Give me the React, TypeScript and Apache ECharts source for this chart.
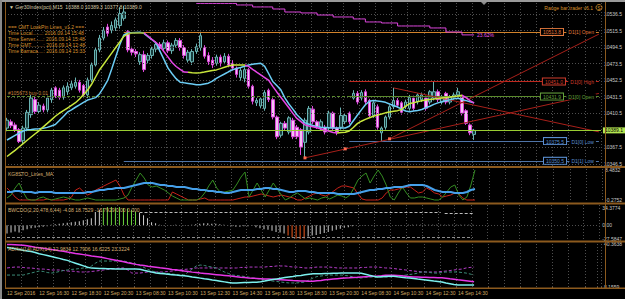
import React, { useEffect, useRef } from 'react';
import * as echarts from 'echarts';

// ---------- categories (M15 bars, trading sessions) ----------
const sessionDays = ['12 Sep', '13 Sep', '14 Sep', '15 Sep'];
const sessionStartMinutes = [870, 480, 480, 480];
const sessionBarCounts = [30, 56, 56, 6];

function buildCategories(): string[] {
  const out: string[] = [];
  sessionDays.forEach((d, s) => {
    for (let k = 0; k < sessionBarCounts[s]; k++) {
      const m = sessionStartMinutes[s] + 15 * k;
      out.push(`${d} ${String(Math.floor(m / 60)).padStart(2, '0')}:${String(m % 60).padStart(2, '0')}`);
    }
  });
  return out;
}
const categories = buildCategories();

const timeLabels = [
  '12 Sep 2016', '12 Sep 16:30', '12 Sep 18:30', '12 Sep 20:30', '13 Sep 08:30', '13 Sep 10:30',
  '13 Sep 12:30', '13 Sep 14:30', '13 Sep 16:30', '13 Sep 18:30', '13 Sep 20:30', '14 Sep 08:30',
  '14 Sep 10:30', '14 Sep 12:30', '14 Sep 14:30',
];
const LABEL_EVERY = 8;

// ---------- main pane: candles [open, close, low, high] ----------
const candles: number[][] = [
  [10392, 10402, 10388, 10405], [10400, 10395, 10392, 10403], [10396, 10390, 10387, 10399], [10390, 10375, 10373, 10392],
  [10376, 10392, 10372, 10395], [10392, 10412, 10388, 10415], [10409, 10430, 10405, 10434], [10428, 10413, 10410, 10432],
  [10413, 10421, 10410, 10425], [10420, 10415, 10412, 10423], [10415, 10430, 10412, 10433], [10428, 10440, 10424, 10443],
  [10443, 10433, 10430, 10445], [10440, 10431, 10428, 10443], [10431, 10443, 10428, 10446], [10438, 10445, 10434, 10450],
  [10443, 10448, 10440, 10452], [10445, 10450, 10442, 10456], [10450, 10440, 10437, 10453], [10446, 10434, 10430, 10448],
  [10434, 10453, 10430, 10456], [10453, 10472, 10450, 10475], [10472, 10491, 10470, 10494], [10491, 10506, 10488, 10510],
  [10506, 10516, 10503, 10520], [10520, 10512, 10508, 10524], [10516, 10522, 10512, 10527], [10519, 10529, 10515, 10532],
  [10522, 10537, 10518, 10545], [10531, 10539, 10528, 10547],
  [10514, 10491, 10488, 10516], [10492, 10488, 10484, 10495], [10489, 10486, 10482, 10492], [10476, 10485, 10472, 10488],
  [10485, 10466, 10463, 10490], [10478, 10484, 10474, 10487], [10484, 10492, 10480, 10495], [10492, 10498, 10488, 10502],
  [10498, 10493, 10489, 10501], [10493, 10500, 10490, 10504], [10500, 10490, 10487, 10503], [10490, 10497, 10486, 10500],
  [10497, 10503, 10494, 10506], [10503, 10494, 10490, 10506], [10494, 10484, 10480, 10497], [10478, 10488, 10475, 10491],
  [10476, 10489, 10472, 10492], [10489, 10495, 10486, 10499], [10494, 10509, 10490, 10514], [10494, 10483, 10480, 10497],
  [10484, 10476, 10472, 10488], [10478, 10472, 10468, 10482], [10474, 10482, 10471, 10485], [10482, 10475, 10470, 10485],
  [10476, 10483, 10473, 10487], [10483, 10472, 10469, 10486], [10474, 10468, 10465, 10478], [10468, 10460, 10456, 10470],
  [10456, 10465, 10452, 10468], [10455, 10466, 10450, 10469], [10466, 10445, 10442, 10468], [10445, 10426, 10422, 10447],
  [10424, 10427, 10420, 10430], [10420, 10429, 10417, 10431], [10417, 10437, 10414, 10440], [10440, 10428, 10425, 10442],
  [10428, 10406, 10403, 10430], [10406, 10381, 10378, 10408], [10383, 10398, 10380, 10400], [10398, 10392, 10389, 10401],
  [10387, 10405, 10384, 10407], [10402, 10381, 10378, 10405], [10393, 10381, 10378, 10396], [10390, 10368, 10358, 10392],
  [10374, 10402, 10354, 10405], [10387, 10417, 10384, 10420], [10416, 10400, 10397, 10420], [10400, 10394, 10391, 10402],
  [10392, 10400, 10389, 10403], [10393, 10387, 10384, 10396], [10392, 10411, 10389, 10414], [10411, 10392, 10389, 10413],
  [10392, 10387, 10383, 10394], [10393, 10408, 10390, 10418], [10400, 10408, 10397, 10411], [10411, 10400, 10397, 10413],
  [10430, 10436, 10428, 10440], [10436, 10425, 10422, 10439], [10430, 10437, 10427, 10440], [10438, 10425, 10422, 10441],
  [10427, 10408, 10405, 10429], [10408, 10424, 10405, 10426], [10419, 10393, 10390, 10422], [10386, 10392, 10375.5, 10394],
  [10393, 10406, 10390, 10408], [10406, 10419, 10403, 10421], [10419, 10427, 10416, 10443], [10427, 10421, 10418, 10430],
  [10424, 10412, 10409, 10426], [10419, 10425, 10416, 10428], [10417, 10431, 10414, 10434], [10430, 10417, 10414, 10433],
  [10425, 10434, 10422, 10436], [10428, 10434, 10425, 10437], [10430, 10417, 10414, 10433], [10425, 10438, 10422, 10440],
  [10430, 10438, 10427, 10451], [10438, 10428, 10425, 10441], [10425, 10431, 10422, 10434], [10436, 10425, 10422, 10438],
  [10425, 10431, 10422, 10434], [10430, 10434, 10428, 10437], [10434, 10438, 10431, 10443], [10431, 10411, 10408, 10434],
  [10414, 10398, 10396, 10416], [10396, 10386, 10383, 10398], [10384, 10389.1, 10377, 10391],
];

const maFast = [
  10376.9, 10379.8, 10382.7, 10385.5, 10388.3, 10389.8, 10390.2, 10390.7, 10391.2, 10391.8,
  10392.9, 10394.6, 10396.6, 10401.6, 10406.8, 10412.1, 10415.2, 10418.4, 10421.4, 10424.5,
  10427.5, 10429.0, 10430.6, 10435.6, 10443.5, 10452.4, 10466.7, 10482.3, 10497.5, 10509.9,
  10512.4, 10512.8, 10513.2, 10513.5, 10511.9, 10507.8, 10503.9, 10499.9, 10489.2, 10478.7,
  10467.9, 10460.8, 10454.6, 10450.1, 10449.3, 10448.6, 10447.8, 10447.0, 10446.9, 10447.9,
  10448.9, 10451.5, 10454.9, 10457.8, 10460.5, 10463.3, 10465.9, 10467.4, 10468.8, 10470.3,
  10471.9, 10472.8, 10473.6, 10474.1, 10470.1, 10460.8, 10451.1, 10445.9, 10440.4, 10430.3,
  10422.5, 10416.0, 10408.9, 10403.8, 10398.6, 10396.9, 10395.2, 10393.7, 10393.1, 10392.7,
  10392.3, 10392.1, 10392.1, 10392.1, 10392.1, 10394.3, 10401.3, 10408.2, 10415.1, 10421.6,
  10426.0, 10427.0, 10426.3, 10425.6, 10424.6, 10422.6, 10420.6, 10418.7, 10416.1, 10413.6,
  10412.7, 10413.6, 10414.4, 10415.5, 10417.7, 10419.7, 10422.0, 10423.9, 10425.3, 10426.8,
  10427.8, 10429.0, 10429.8, 10428.3, 10426.8, 10425.3, 10424.2,
];

const maSlow = [
  10356.0, 10359.9, 10363.8, 10368.1, 10372.3, 10376.6, 10380.7, 10384.8, 10388.9, 10393.5,
  10397.9, 10402.4, 10407.0, 10410.8, 10414.1, 10417.4, 10420.7, 10424.1, 10428.9, 10434.5,
  10439.9, 10447.5, 10456.7, 10465.9, 10472.9, 10480.0, 10486.9, 10494.0, 10501.0, 10508.1,
  10511.1, 10512.4, 10512.4, 10512.4, 10512.4, 10508.6, 10504.4, 10500.4, 10495.6, 10488.7,
  10481.9, 10475.0, 10470.0, 10466.4, 10463.0, 10462.6, 10462.2, 10461.9, 10462.0, 10462.9,
  10463.9, 10464.8, 10465.7, 10467.3, 10469.0, 10470.6, 10471.9, 10471.9, 10471.9, 10471.9,
  10470.1, 10466.4, 10462.9, 10459.5, 10456.0, 10452.4, 10444.9, 10437.8, 10431.1, 10424.5,
  10417.7, 10410.6, 10404.2, 10400.2, 10396.1, 10394.7, 10393.6, 10392.4, 10390.9, 10389.4,
  10387.9, 10386.5, 10385.7, 10386.4, 10386.7, 10388.3, 10392.8, 10397.6, 10400.7, 10403.1,
  10405.1, 10406.9, 10408.4, 10409.8, 10411.3, 10412.3, 10413.2, 10414.1, 10415.5, 10419.9,
  10423.1, 10424.2, 10425.5, 10426.6, 10427.7, 10428.3, 10428.9, 10429.6, 10430.2, 10430.8,
  10431.3, 10432.0, 10432.6, 10433.6, 10430.7, 10426.9, 10423.7,
];
// trend segments of the slow MA (bar index where colour changes)
const maSlowTurns = [30, 34, 45, 59, 82, 113];

const fibStart = 47;
const fibLevel = [
  10549.9, 10549.9, 10549.9, 10549.9, 10549.9, 10549.9, 10549.9, 10549.9, 10549.9, 10549.9,
  10547.9, 10547.9, 10547.9, 10547.9, 10545.4, 10545.4, 10545.4, 10545.4, 10545.4,
  10542.8, 10542.8, 10542.8, 10539.0, 10539.0, 10539.0, 10539.0, 10537.8, 10537.8, 10537.8, 10537.8,
  10535.2, 10535.2, 10535.2, 10535.2, 10532.7, 10532.7, 10532.7, 10532.7, 10532.7,
  10530.2, 10530.2, 10530.2, 10526.4, 10526.4, 10526.4, 10526.4, 10525.1, 10525.1, 10525.1, 10525.1,
  10521.3, 10521.3, 10521.3, 10521.3, 10521.3, 10521.3, 10521.3, 10521.3,
  10518.8, 10518.8, 10518.8, 10518.8, 10513.7, 10513.7, 10513.7, 10513.7, 10510.0, 10510.0, 10510.0, 10510.0,
];

const priceTicks = [10346.5, 10367.5, 10410.5, 10431.5, 10452.5, 10473.5, 10494.5, 10515.5, 10536.5];
const priceGridLevels = [10346.5, 10367.5, 10389.5, 10410.5, 10431.5, 10452.5, 10473.5, 10494.5, 10515.5, 10536.5];

const d1PrevOpen = 10513.8;
const d1PrevLow = 10350.5;
const d1High = 10451.0;
const d1Open = 10431.9;
const d1Low = 10375.5;
const lastPrice = 10389.1;
const prevDayStart = 29;
const dayStart = 85;

// trend lines: [startIndex, startPrice, endIndex, endPrice]
const trendLines = [
  [74, 10354.3, 147, 10435.9],
  [95, 10378.4, 147, 10511.0],
  [96, 10442.9, 147, 10387.2],
];
const trendPoints = [[74, 10354.3], [84, 10365.7], [95, 10378.4]];

// ---------- pane 2: KG8STO_Lines_MA ----------
const stoBlue = [
  2.06, 2.06, 2.35, 2.35, 2.06, 2.06, 2.06, 1.77, 2.06, 2.06, 2.06, 2.06, 1.77, 1.77, 1.77, 1.77, 1.77, 1.77, 1.77, 1.77,
  2.06, 2.06, 2.35, 2.64, 2.64, 2.93, 2.93, 3.23, 3.23, 3.23, 3.52, 3.81, 4.10, 4.40, 4.69, 4.69, 4.69, 4.40,
  4.10, 4.10, 3.81, 3.81, 3.52, 3.52, 3.52, 3.23, 2.93, 2.93, 2.64, 2.64, 2.35, 2.35, 2.06, 2.06, 1.77, 1.77,
  2.06, 2.35, 2.64, 2.64, 2.64, 2.64, 2.93, 2.93, 3.23, 3.23, 2.93, 2.93, 2.64, 2.35, 2.06, 2.06, 2.35, 2.35, 2.35, 2.06,
  2.06, 1.77, 1.77, 1.77, 1.77, 1.77, 1.48, 1.48, 1.48, 1.48, 1.48, 1.77, 2.06, 2.35, 2.64, 2.64, 2.93, 2.93, 3.23, 3.23,
  3.52, 3.52, 3.52, 3.81, 4.10, 4.10, 4.10, 4.10, 3.81, 3.23, 2.64, 2.35, 2.06, 2.06, 2.06, 1.77, 1.77, 1.77, 2.06, 2.64, 2.93,
];
const stoRed = [
  3.23, 2.06, 0.60, -0.28, -0.28, -0.28, -0.28, -0.28, -0.28, -0.28, 0.02, -0.28, -0.28,
  -0.28, -0.28, 0.02, 0.60, 2.64, 3.23, 2.06, 1.18, 1.77, 2.64, 3.23, 3.81, 4.40, 4.98, 5.56, 3.81, 1.18,
  -0.28, -0.28, -0.28, -0.28, -0.28, -0.28, -0.28, -0.28, -0.28, -0.28, -0.28,
  2.06, 1.48, 0.89, 0.31, -0.28, -0.28, -0.28, 0.02, 0.31, -0.28, -0.28, -0.28, -0.28, -0.28, -0.28,
  -0.28, 0.02, 0.31, 0.60, 0.60, 0.89, 1.18, 1.48, 1.18, 0.89, 0.60, 0.89, 1.18, 0.89, 0.60, 0.31, -0.28, -0.28, 0.31, 0.89,
  1.48, 1.77, 1.18, 0.89, 1.48, 2.35, 3.23, 3.81, 3.81, 3.52, 3.23, 1.48, 0.02, -0.28, -0.28, -0.28, -0.28, 0.31, 1.77, 2.64,
  2.64, 2.93, 3.23, 3.52, 3.52, 2.64, 1.77, 2.06, 3.23, 2.64, 1.77, 1.48, 0.60, 0.89, 1.18, 1.77, 1.48, 0.31, -0.28, -0.28, -0.28,
];
const stoGreen = [
  0.31, 1.18, 3.23, 4.69, 2.06, 0.02, -0.28, -0.28, 0.31, 0.60, 0.02,
  -0.28, 0.02, 0.31, 0.60, 0.31, 0.02, -0.28, -0.28, 0.02, 0.31, 0.02, -0.28, -0.28, -0.28, -0.28, -0.28, -0.28, 0.02, 0.31,
  1.18, 3.52, 5.56, 7.61, 6.15, 4.10, 3.52, 3.81, 3.23, 2.64, 1.77, 0.89, 0.31, -0.28, -0.28, -0.28, -0.28, -0.28,
  0.31, 1.77, 3.81, 5.56, 3.23, 1.77, 2.06, 2.35, 2.64, 4.40, 6.44, 7.90, 0.60, 2.64, 4.69, 2.64, 0.60, 2.64, 4.69, 2.93,
  1.18, -0.28, 0.31, 1.18, 1.77, 0.89, 0.02,
  0.31, 0.02, -0.28, 0.31, 0.60, 0.02, 0.60, 1.18, 0.89, 0.31, 1.18, 3.23, 5.56, 6.73, 7.61, 4.69, 6.73, 8.48, 6.73, 4.10,
  0.60, -0.28, 1.77, 3.52, 1.77, 0.31, 0.31, 0.60, 0.60, 0.31, 0.02, -0.28, -0.28, 0.60, 2.06, 3.52, 4.10, 1.18, -0.28, 0.60,
  4.10, 8.48,
];

// ---------- pane 3: histogram ----------
const macdHist = [
  -16, -14, -12, -14, -10, -8, -6, -5, -4, -3, -2,
  1, 2, 3, 4, 5, 6, 7, 8, 10, 12, 14, 26, 30,
  34, 36, 36, 35, 36, 34, 33, 30, 26,
  24, 20, 14, 6, 4, 1, 0.6, 0.6, 0.6, 1, 0.6, 0.6, 0.6, 1, 2,
  3, 4, 4, 3, 3, 2, 1, 0.6, -2, -3, -3, -2, -2, -1,
  -4, -6, -8, -9, -11, -13, -14, -16,
  -20, -24, -26, -27, -26,
  -22, -20, -19, -17, -15, -13, -11, -9, -7, -5, -4, -2, -1,
  0.6, 0.6, 0.6, 0.6, 0.6, 0.6, 0.6, 0.6, 0.6, 0.6, 0.6, 0.6,
  1, 1, 1, 1, 1, 1, 1, 1, 1, 1, 1, 1, 1, 1, 1, 1, 1,
];
const macdKind =
  'nnnnnnnnnnnnnnnnnnnnnnnn' + 'ggggggggg' + 'nnnnnnnnnnnnnnnnnnnnnnnnnnnnnnnnnnnnn' + 'rrrrr' +
  'nnnnnnnnnnnnnnnnnnnnnnnnnnnnnnnnnnnnnnnnnnn';
const macdUpper = [[33, 26.5, 108], [109, 23.0, 116]];
const macdLower = -23.7;

// ---------- pane 4: ADX ----------
const adxMain = [
  40.0, 39.9, 39.8, 39.7, 39.4, 39.0, 38.5, 38.0, 37.6, 37.1, 36.7, 36.2, 35.8, 35.3, 34.9, 34.3, 33.8, 33.3, 32.9, 32.4,
  31.9, 31.4, 31.0, 30.6, 30.0, 29.4, 28.8, 28.2, 27.6, 27.0, 26.3, 25.7, 25.1, 24.6, 24.2, 23.7, 23.4, 23.0, 22.5, 22.2,
  21.8, 21.3, 21.0, 20.6, 20.1, 19.8, 19.3, 19.0, 18.6, 18.3, 18.0, 17.7, 17.4, 17.1, 16.8, 16.5, 16.2, 15.9, 15.5, 15.2,
  14.9, 14.8, 14.6, 14.4, 14.2, 14.1, 13.9, 13.7, 13.6, 13.4, 13.2, 13.0, 12.9, 12.7, 12.6, 12.4, 12.5, 12.8, 13.1, 13.5,
  13.8, 14.1, 14.4, 14.7, 14.9, 15.0, 15.3, 15.4, 15.7, 15.9, 16.0, 16.3, 16.4, 16.6, 16.9, 17.0, 16.9, 16.7, 16.5, 16.2,
  15.9, 15.6, 15.6, 15.4, 15.4, 15.3, 15.2, 15.1, 15.0, 14.7, 14.3, 14.0, 13.6, 13.3, 12.9, 12.5, 12.1,
];
const adxMa = [
  37.8, 37.3, 36.8, 36.2, 35.7, 35.2, 34.7, 34.0, 33.1, 32.4, 31.7, 31.0, 30.3, 29.6, 28.8, 28.1, 27.0, 26.0, 25.0, 24.0,
  22.9, 22.3, 22.2, 22.1, 22.0, 21.9, 21.8, 21.6, 21.6, 21.6, 21.6, 21.6, 21.6, 21.5, 20.7, 20.0, 19.3, 18.6, 18.3, 18.0,
  17.7, 17.4, 17.1, 16.8, 16.5, 16.2, 15.7, 15.3, 14.8, 14.3, 13.9, 13.4, 13.0, 12.5, 12.0, 11.5, 11.2, 11.2, 11.4, 11.5,
  11.6, 11.8, 11.8, 12.1, 12.6, 13.2, 13.7, 14.2, 14.7, 15.2, 15.6, 16.0, 16.5, 16.8, 17.3, 17.7, 18.0, 18.0, 18.1, 18.2,
  18.3, 18.4, 18.5, 18.6, 18.6, 18.6, 18.6, 18.6, 18.4, 17.7, 16.9, 16.2, 15.7, 15.9, 16.1, 16.2, 16.2, 15.8, 15.5, 15.1,
  14.9, 14.5, 14.1, 13.8, 13.4, 13.0, 12.6, 12.3, 11.9, 11.2, 10.6, 10.0, 9.7, 9.7, 9.7, 9.7, 9.7,
];
const diPlus = [
  22.4, 22.8, 23.1, 23.1, 22.8, 22.4, 22.4, 22.0, 21.6, 21.6, 21.3, 20.9, 20.9, 20.9, 20.5, 20.1, 20.1, 19.8, 19.4, 19.4,
  19.4, 19.8, 20.1, 20.5, 20.9, 21.3, 21.6, 22.0, 22.4, 22.4, 20.9, 18.6, 18.6, 18.6, 19.0, 19.4, 19.4, 19.4, 19.4, 19.4,
  19.8, 20.1, 20.5, 20.9, 21.3, 21.6, 22.0, 22.4, 22.4, 22.4, 22.4, 22.4, 22.4, 22.4, 22.4, 22.4, 22.4, 22.4, 22.8, 22.8,
  23.1, 23.1, 23.1, 23.1, 23.1, 23.5, 23.5, 23.9, 23.9, 23.9, 23.5, 23.1, 23.1, 22.8, 22.4, 22.4, 22.8, 23.1, 23.1, 23.1,
  23.1, 22.8, 22.4, 22.4, 22.4, 22.4, 22.4, 22.4, 22.8, 22.8, 23.1, 23.1, 23.1, 22.8, 22.4, 22.4, 22.0, 21.6, 21.3, 20.9,
  20.5, 20.1, 19.8, 19.4, 19.4, 19.4, 19.4, 19.4, 19.8, 20.1, 20.5, 20.9, 21.3, 21.6, 22.4, 22.8, 23.1,
];
const diMinus = [
  17.1, 17.1, 17.1, 17.1, 17.1, 17.9, 18.6, 19.4, 20.1, 19.8, 19.0, 18.6, 19.0, 19.8, 20.5, 20.9, 21.3, 21.6, 22.0, 22.4,
  22.4, 23.9, 26.1, 27.6, 27.6, 27.6, 27.6, 27.6, 27.6, 27.6, 26.9, 26.1, 25.4, 24.3, 22.8, 21.3, 20.1, 19.4, 19.0, 18.6,
  18.3, 17.9, 17.5, 17.1, 17.1, 19.4, 21.6, 23.9, 24.6, 24.3, 23.5, 23.1, 22.4, 20.9, 19.4, 18.3, 17.1, 16.8, 16.4, 16.0,
  15.6, 14.9, 14.5, 14.1, 13.4, 13.0, 12.6, 12.3, 11.9, 11.5, 11.2, 11.2, 11.2, 11.5, 11.9, 13.4, 14.9, 16.0, 16.4, 16.8,
  17.1, 17.1, 17.1, 17.1, 16.8, 16.4, 15.6, 14.9, 14.9, 15.3, 15.6, 15.6, 15.6, 15.6, 15.6, 15.6, 16.0, 16.4, 16.8, 17.1,
  17.5, 17.9, 18.6, 19.4, 19.4, 19.0, 18.6, 18.6, 19.0, 19.4, 19.4, 19.4, 19.4, 19.0, 18.6, 17.9, 17.1,
];

// ---------- styles ----------
const FONT = '"Liberation Sans", Arial, sans-serif';
const BROWN = '#8c5a1e';
const GRIDC = '#4e4e4e';
const AXTXT = '#c8c8c8';
const YELLOW = '#c8e63c';
const MAGENTA = '#e646e6';

function buildOption(): any {
  const n = candles.length;
  const fibData = categories.slice(0, n).map((_, i) => (i >= fibStart ? fibLevel[i - fibStart] : null));

  const xAxisFor = (gi: number, bottom: boolean) => ({
    type: 'category',
    gridIndex: gi,
    data: categories,
    boundaryGap: true,
    axisLine: { show: false },
    axisTick: bottom ? { show: true, interval: LABEL_EVERY - 1, length: 2, lineStyle: { color: BROWN } } : { show: false },
    axisLabel: bottom
      ? {
          show: true,
          interval: 0,
          align: 'left',
          margin: 3,
          color: '#d2aa64',
          fontSize: 5,
          fontFamily: FONT,
          formatter: (_v: string, i: number) =>
            i % LABEL_EVERY === 0 && i / LABEL_EVERY < timeLabels.length ? timeLabels[i / LABEL_EVERY] : '',
        }
      : { show: false },
    splitLine: { show: true, interval: 3, lineStyle: { color: GRIDC, type: [1, 2], width: 1 } },
  });

  const yAxisFor = (gi: number, min: number, max: number, ticks: number[], fmt: (v: number) => string) => ({
    type: 'value',
    gridIndex: gi,
    position: 'right',
    min,
    max,
    axisLine: { show: false },
    axisTick: { show: false },
    splitLine: { show: false },
    axisLabel: { show: true, customValues: ticks, formatter: fmt, color: AXTXT, fontSize: 5, margin: 3, fontFamily: FONT },
  });

  const levelLabel = (price: string, name: string, col: string) => ({
    show: true,
    position: 'insideEnd',
    distance: 3,
    formatter: `{b|${price}} {t|${name}}`,
    rich: {
      b: { color: col, borderColor: col, borderWidth: 1, padding: [1, 2, 0, 2], backgroundColor: '#000', fontSize: 5, fontFamily: FONT },
      t: { color: col, backgroundColor: '#000', padding: [1, 2, 0, 2], fontSize: 5, fontFamily: FONT },
    },
  });

  const seg = (x0: number, y0: number, x1: number, y1: number, lineStyle: any, label: any = { show: false }) => [
    { coord: [x0, y0], lineStyle, label },
    { coord: [x1, y1] },
  ];

  const lastIdx = categories.length - 1;
  const mainMarkLines: any[] = [
    ...priceGridLevels.map((v) => ({ yAxis: v, lineStyle: { color: GRIDC, type: [1, 2], width: 1 }, label: { show: false } })),
    seg(prevDayStart, d1PrevOpen, lastIdx, d1PrevOpen, { color: '#d2822a', width: 1, type: 'solid' },
      levelLabel(d1PrevOpen.toFixed(1), 'D1[1] Open', '#e0783c')),
    seg(prevDayStart, d1PrevLow, lastIdx, d1PrevLow, { color: '#4f74a8', width: 1, type: 'solid' },
      levelLabel(d1PrevLow.toFixed(1), 'D1[1] Low', '#5a8ed0')),
    seg(dayStart, d1High, lastIdx, d1High, { color: '#c0281e', width: 1, type: 'solid' },
      levelLabel(d1High.toFixed(1), 'D1[0] High', '#d23c2c')),
    seg(dayStart, d1Low, lastIdx, d1Low, { color: '#4f74a8', width: 1, type: 'solid' },
      levelLabel(d1Low.toFixed(1), 'D1[0] Low', '#5a8ed0')),
    seg(0, d1Open, lastIdx, d1Open, { color: '#5a8a2c', width: 1, type: [3, 2] }, {
      show: true, position: 'insideStartTop', distance: 1, formatter: '#105673 buy 0.01', color: '#c8823c', fontSize: 5, fontFamily: FONT,
    }),
    seg(dayStart, d1Open, lastIdx, d1Open, { color: '#5a8a2c', width: 1, type: [3, 2] },
      levelLabel(d1Open.toFixed(1), 'D1[0] Open', '#64a03c')),
    ...trendLines.map((t) => seg(t[0], t[1], t[2], t[3], { color: '#a8201a', width: 1, type: 'solid' })),
    {
      yAxis: lastPrice,
      lineStyle: { color: '#9acd32', width: 1, type: 'solid' },
      label: {
        show: true, position: 'end', distance: 2, formatter: lastPrice.toFixed(1), color: '#000', backgroundColor: '#b4e650',
        padding: [1, 3, 0, 2], fontSize: 5, fontFamily: FONT,
      },
    },
  ];

  const kindColor = (k: string) => (k === 'g' ? '#6ad23c' : k === 'r' ? '#f05a1e' : '#cfcfcf');

  const gLeft = 5;
  const gRight = 20;

  const text = (x: number, y: number, t: string, fill: string, align: string = 'left') => ({
    type: 'text', x, y, z: 200,
    style: { text: t, fill, fontSize: 5, fontFamily: FONT, align, verticalAlign: 'top' },
  });
  const hline = (y: number, w: number) => ({
    type: 'rect', z: 150, shape: { x: gLeft, y, width: 625 - gLeft, height: w }, style: { fill: BROWN },
  });

  return {
    animation: false,
    backgroundColor: '#000',
    textStyle: { fontFamily: FONT },
    grid: [
      { left: gLeft, right: gRight, top: 3, height: 163 },
      { left: gLeft, right: gRight, top: 169, height: 33 },
      { left: gLeft, right: gRight, top: 205, height: 35 },
      { left: gLeft, right: gRight, top: 244, height: 43 },
    ],
    xAxis: [xAxisFor(0, false), xAxisFor(1, false), xAxisFor(2, false), xAxisFor(3, true)],
    yAxis: [
      yAxisFor(0, 10344.0, 10550.4, priceTicks, (v) => v.toFixed(1)),
      yAxisFor(1, -0.86, 8.78, [-0.2752, 8.4832], (v) => v.toFixed(4)),
      yAxisFor(2, -29, 40, [-27.5847, 0, 34.3774], (v) => (v === 0 ? '0.00' : v.toFixed(4))),
      yAxisFor(3, 8.1559, 40.3638, [8.1559, 40.3638], (v) => v.toFixed(4)),
    ],
    visualMap: [
      {
        type: 'piecewise', show: false, dimension: 0, seriesIndex: 2,
        pieces: [
          { lt: maSlowTurns[0], color: YELLOW },
          { gte: maSlowTurns[0], lt: maSlowTurns[1], color: '#a0b432' },
          { gte: maSlowTurns[1], lt: maSlowTurns[2], color: MAGENTA },
          { gte: maSlowTurns[2], lt: maSlowTurns[3], color: YELLOW },
          { gte: maSlowTurns[3], lt: maSlowTurns[4], color: MAGENTA },
          { gte: maSlowTurns[4], lt: maSlowTurns[5], color: YELLOW },
          { gte: maSlowTurns[5], color: MAGENTA },
        ],
      },
    ],
    series: [
      {
        type: 'candlestick', xAxisIndex: 0, yAxisIndex: 0, data: candles, barWidth: 3, z: 4,
        itemStyle: { color: '#173c3c', color0: '#f2c4f2', borderColor: '#6ab4b4', borderColor0: '#dc46dc', borderWidth: 1 },
        markLine: { silent: true, symbol: ['none', 'none'], animation: false, data: mainMarkLines },
        markPoint: {
          silent: true, symbol: 'rect', symbolSize: 3, itemStyle: { color: '#ff6a50' }, label: { show: false },
          data: trendPoints.map((p) => ({ coord: p })),
        },
      },
      { type: 'line', xAxisIndex: 0, yAxisIndex: 0, data: maFast, symbol: 'none', z: 5, lineStyle: { color: '#6ccdf5', width: 1.5 } },
      { type: 'line', xAxisIndex: 0, yAxisIndex: 0, data: maSlow, symbol: 'none', z: 5, lineStyle: { width: 1.5 } },
      {
        type: 'line', xAxisIndex: 0, yAxisIndex: 0, data: fibData, symbol: 'none', step: 'end', z: 5,
        lineStyle: { color: '#dc46dc', width: 1 },
        endLabel: { show: true, formatter: '23.62%', color: '#e650e6', fontSize: 5, fontFamily: FONT, distance: 3 },
      },
      { type: 'line', xAxisIndex: 1, yAxisIndex: 1, data: stoBlue, symbol: 'none', z: 4, lineStyle: { color: '#46a0ea', width: 2 } },
      { type: 'line', xAxisIndex: 1, yAxisIndex: 1, data: stoRed, symbol: 'none', z: 3, lineStyle: { color: '#c8231a', width: 1 } },
      { type: 'line', xAxisIndex: 1, yAxisIndex: 1, data: stoGreen, symbol: 'none', z: 3, lineStyle: { color: '#358c22', width: 1 } },
      {
        type: 'bar', xAxisIndex: 2, yAxisIndex: 2, barWidth: 1,
        data: macdHist.map((v, i) => ({ value: v, itemStyle: { color: kindColor(macdKind[i]) } })),
        markLine: {
          silent: true, symbol: ['none', 'none'], animation: false, label: { show: false },
          data: [
            { yAxis: 0, lineStyle: { color: GRIDC, type: [1, 2], width: 1 } },
            ...macdUpper.map((u) => seg(u[0], u[1], u[2], u[1], { color: '#bcbcbc', type: [3, 2], width: 1 })),
            seg(0, macdLower, n - 1, macdLower, { color: '#8c8c8c', type: [3, 2], width: 1 }),
          ],
        },
      },
      { type: 'line', xAxisIndex: 3, yAxisIndex: 3, data: adxMain, symbol: 'none', z: 4, lineStyle: { color: '#e636e6', width: 1.5 } },
      { type: 'line', xAxisIndex: 3, yAxisIndex: 3, data: adxMa, symbol: 'none', z: 4, lineStyle: { color: '#7cf0ee', width: 1.5 } },
      { type: 'line', xAxisIndex: 3, yAxisIndex: 3, data: diPlus, symbol: 'none', z: 3, lineStyle: { color: '#b43cc8', width: 1, type: [3, 2] } },
      { type: 'line', xAxisIndex: 3, yAxisIndex: 3, data: diMinus, symbol: 'none', z: 3, lineStyle: { color: '#3c8c78', width: 1, type: [3, 2] } },
    ],
    graphic: [
      { type: 'rect', z: 150, shape: { x: 0, y: 0, width: 625, height: 2 }, style: { fill: '#9a9a9a' } },
      { type: 'rect', z: 150, shape: { x: 0, y: 0, width: 2, height: 299 }, style: { fill: '#8a8a8a' } },
      { type: 'rect', z: 150, shape: { x: gLeft, y: 2, width: 1, height: 287 }, style: { fill: BROWN } },
      { type: 'rect', z: 150, shape: { x: 625 - gRight, y: 2, width: 1, height: 287 }, style: { fill: BROWN } },
      hline(166, 2),
      hline(202.5, 2),
      hline(240.5, 2),
      hline(287.5, 1.5),
      text(9, 4, '\u25BC Ger30Index(pct),M15  10388.0 10389.3 10377.8 10389.0', '#d8cca8'),
      text(8, 24, '=== CMT LookPin Lines_v1.2 ===', '#d8922c'),
      text(8, 30.5, 'Time Local.......: 2016.09.14 15:48', '#d8922c'),
      text(8, 36.5, 'Time Server......: 2016.09.14 15:48', '#d8922c'),
      text(8, 42.5, 'Time GMT.........: 2016.09.14 12:48', '#d8922c'),
      text(8, 48.5, 'Time Barraca....: 2016.09.14 15:33', '#d8922c'),
      text(593, 5, 'Range bar trader v6.1', '#d8922c', 'right'),
      { type: 'circle', z: 200, shape: { cx: 599, cy: 7.5, r: 3 }, style: { fill: 'none', stroke: '#d8922c', lineWidth: 0.8 } },
      text(599, 5.5, 'S', '#d8922c', 'center'),
      { type: 'polygon', z: 200, shape: { points: [[481, 2], [487, 2], [484, 5]] }, style: { fill: '#8a8a8a' } },
      text(8, 171, 'KG8STO_Lines_MA', '#d8b070'),
      text(8, 207, 'BWCDO(2,20,478,6,44) -4.08 18.7529 -16.7929 0.00 0.000', '#d8b070'),
      text(8, 246, 'ADXm(14) ADX(14) 12.9834 12.7906 16.6225 23.3224', '#d8b070'),
    ],
  };
}

export default function App() {
  const ref = useRef<HTMLDivElement>(null);
  useEffect(() => {
    if (!ref.current) return;
    const chart = echarts.init(ref.current, null, { renderer: 'svg' });
    chart.setOption(buildOption());
    return () => chart.dispose();
  }, []);
  return (
    <div
      ref={ref}
      style={{ position: 'absolute', left: 0, top: 0, width: 625, height: 299, background: '#000' }}
    />
  );
}
